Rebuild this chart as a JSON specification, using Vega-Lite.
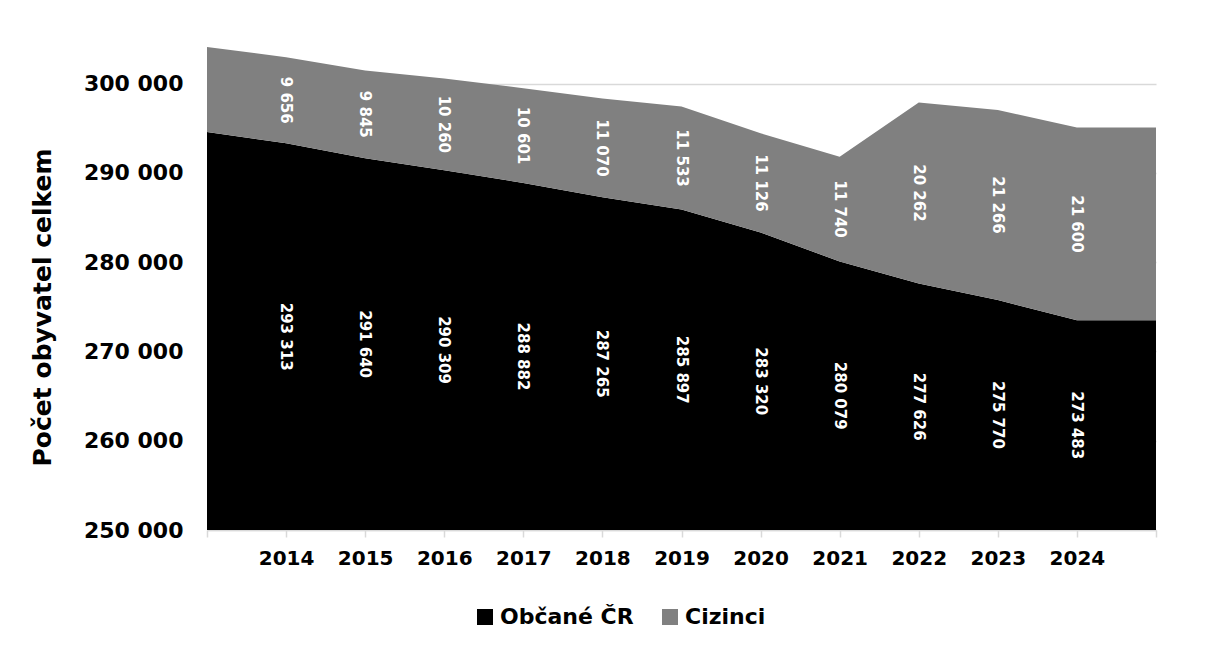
{
  "$schema": "https://vega.github.io/schema/vega-lite/v6.json",
  "autosize": "none",
  "width": 949,
  "height": 491,
  "padding": {"left": 207, "top": 39, "right": 52, "bottom": 118},
  "background": "white",
  "config": {
    "locale": {"number": {"decimal": ",", "thousands": " ", "grouping": [3], "currency": ["", " Kč"]}},
    "font": "DejaVu Sans",
    "view": {"stroke": null}
  },
  "data": {"values": [
    {"year": 2013, "series": "Občané ČR", "value": 294590},
    {"year": 2013, "series": "Cizinci", "value": 9520},
    {"year": 2014, "series": "Občané ČR", "value": 293313},
    {"year": 2014, "series": "Cizinci", "value": 9656},
    {"year": 2015, "series": "Občané ČR", "value": 291640},
    {"year": 2015, "series": "Cizinci", "value": 9845},
    {"year": 2016, "series": "Občané ČR", "value": 290309},
    {"year": 2016, "series": "Cizinci", "value": 10260},
    {"year": 2017, "series": "Občané ČR", "value": 288882},
    {"year": 2017, "series": "Cizinci", "value": 10601},
    {"year": 2018, "series": "Občané ČR", "value": 287265},
    {"year": 2018, "series": "Cizinci", "value": 11070},
    {"year": 2019, "series": "Občané ČR", "value": 285897},
    {"year": 2019, "series": "Cizinci", "value": 11533},
    {"year": 2020, "series": "Občané ČR", "value": 283320},
    {"year": 2020, "series": "Cizinci", "value": 11126},
    {"year": 2021, "series": "Občané ČR", "value": 280079},
    {"year": 2021, "series": "Cizinci", "value": 11740},
    {"year": 2022, "series": "Občané ČR", "value": 277626},
    {"year": 2022, "series": "Cizinci", "value": 20262},
    {"year": 2023, "series": "Občané ČR", "value": 275770},
    {"year": 2023, "series": "Cizinci", "value": 21266},
    {"year": 2024, "series": "Občané ČR", "value": 273483},
    {"year": 2024, "series": "Cizinci", "value": 21600},
    {"year": 2025, "series": "Občané ČR", "value": 273483},
    {"year": 2025, "series": "Cizinci", "value": 21600}
  ]},
  "layer": [
    {
      "mark": {"type": "area", "clip": true, "line": false},
      "encoding": {
        "x": {
          "field": "year", "type": "quantitative",
          "scale": {"domain": [2013, 2025], "nice": false, "zero": false},
          "axis": {
            "title": null,
            "values": [2013, 2014, 2015, 2016, 2017, 2018, 2019, 2020, 2021, 2022, 2023, 2024, 2025],
            "labelExpr": "datum.value < 2014 || datum.value > 2024 ? '' : format(datum.value, 'd')",
            "grid": false,
            "domainColor": "#d9d9d9",
            "domainWidth": 1.5,
            "tickColor": "#d9d9d9",
            "tickWidth": 1.5,
            "tickSize": 7,
            "labelPadding": 11,
            "labelFont": "DejaVu Sans",
            "labelFontWeight": "bold",
            "labelFontSize": 20,
            "labelColor": "#000000",
            "labelFlush": false
          }
        },
        "y": {
          "field": "value", "type": "quantitative", "stack": "zero",
          "scale": {"domain": [250000, 305000], "nice": false, "zero": false},
          "axis": {
            "title": "Počet obyvatel celkem",
            "titleFont": "DejaVu Sans",
            "titleFontWeight": "bold",
            "titleFontSize": 25,
            "titleColor": "#000000",
            "titleX": -165,
            "titleY": 268,
            "titleAngle": -90,
            "titleAlign": "center",
            "titleBaseline": "middle",
            "values": [250000, 260000, 270000, 280000, 290000, 300000],
            "format": ",d",
            "domain": false,
            "ticks": false,
            "labelPadding": 24,
            "labelFont": "DejaVu Sans",
            "labelFontWeight": "bold",
            "labelFontSize": 22,
            "labelColor": "#000000",
            "grid": true,
            "gridColor": "#d9d9d9",
            "gridWidth": 1.5
          }
        },
        "color": {
          "field": "series", "type": "nominal",
          "scale": {"domain": ["Občané ČR", "Cizinci"], "range": ["#000000", "#808080"]},
          "legend": {
            "title": null,
            "orient": "none",
            "direction": "horizontal",
            "legendX": 267,
            "legendY": 567,
            "padding": 0,
            "symbolType": "square",
            "symbolSize": 256,
            "symbolStrokeWidth": 0,
            "labelFont": "DejaVu Sans",
            "labelFontWeight": "bold",
            "labelFontSize": 22,
            "labelColor": "#000000",
            "labelOffset": 4,
            "columnPadding": 25
          }
        },
        "order": {"field": "series", "sort": "descending"}
      }
    },
    {
      "transform": [
        {"filter": "datum.year >= 2014 && datum.year <= 2024"},
        {"stack": "value", "groupby": ["year"], "sort": [{"field": "series", "order": "descending"}], "as": ["v0", "v1"]},
        {"calculate": "(max(datum.v0, 250000) + datum.v1) / 2", "as": "mid"}
      ],
      "mark": {"type": "text", "angle": 90, "color": "white", "font": "DejaVu Sans", "fontWeight": "bold", "fontSize": 15, "align": "center", "baseline": "middle"},
      "encoding": {
        "x": {"field": "year", "type": "quantitative"},
        "y": {"field": "mid", "type": "quantitative", "stack": null},
        "text": {"field": "value", "type": "quantitative", "format": ",d"}
      }
    }
  ]
}
